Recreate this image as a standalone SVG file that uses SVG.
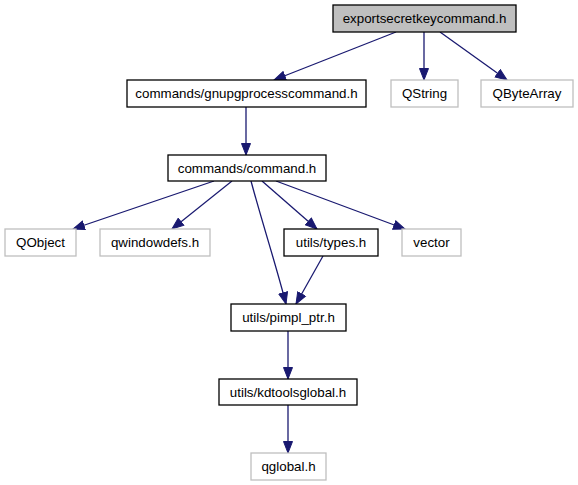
<svg xmlns="http://www.w3.org/2000/svg" width="578" height="485" viewBox="0 0 578 485">
<style>
.box{fill:#ffffff;stroke:#000000;stroke-width:1.3}
.ext{fill:#ffffff;stroke:#bfbfbf;stroke-width:1.3}
.cur{fill:#bfbfbf;stroke:#000000;stroke-width:1.3}
text{font-family:"Liberation Sans",Arial,Helvetica,sans-serif;font-size:13.33px;fill:#000000;text-anchor:middle}
.edge{fill:none;stroke:#191970;stroke-width:1.3}
</style>
<defs>
<marker id="ah" markerUnits="userSpaceOnUse" markerWidth="13" markerHeight="11" viewBox="0 0 13 11" refX="12" refY="5.5" orient="auto">
<path d="M0.5,1 L12,5.5 L0.5,10 Z" fill="#191970" stroke="#191970"/>
</marker>
</defs>
<rect width="578" height="485" fill="#ffffff"/>
<g id="connectors">
<path class="edge" marker-end="url(#ah)" d="M396,32 L274,80"/>
<path class="edge" marker-end="url(#ah)" d="M424,32 L424,80"/>
<path class="edge" marker-end="url(#ah)" d="M440,32 L507,80"/>
<path class="edge" marker-end="url(#ah)" d="M246,107 L246,155"/>
<path class="edge" marker-end="url(#ah)" d="M214,181 L73,229"/>
<path class="edge" marker-end="url(#ah)" d="M232,181 L172,229"/>
<path class="edge" marker-end="url(#ah)" d="M251,181 C262,222 276,265 286,304"/>
<path class="edge" marker-end="url(#ah)" d="M262,181 L317,229"/>
<path class="edge" marker-end="url(#ah)" d="M276,181 L405,229"/>
<path class="edge" marker-end="url(#ah)" d="M323,256 L296,304"/>
<path class="edge" marker-end="url(#ah)" d="M288,331 L288,379"/>
<path class="edge" marker-end="url(#ah)" d="M288,405 L288,453"/>
</g>
<g id="node_export"><rect class="cur" x="333" y="5" width="183" height="27"/><text x="424.5" y="23">exportsecretkeycommand.h</text></g>
<g id="node_gnupg"><rect class="box" x="127" y="80" width="239" height="27"/><text x="246.5" y="98">commands/gnupgprocesscommand.h</text></g>
<g id="node_qstring"><rect class="ext" x="391" y="80" width="67" height="27"/><text x="424.5" y="98">QString</text></g>
<g id="node_qbytearray"><rect class="ext" x="481" y="80" width="92" height="27"/><text x="527" y="98">QByteArray</text></g>
<g id="node_command"><rect class="box" x="168" y="155" width="158" height="26"/><text x="247" y="172.5">commands/command.h</text></g>
<g id="node_qobject"><rect class="ext" x="5" y="229" width="71" height="27"/><text x="40.5" y="247">QObject</text></g>
<g id="node_qwindowdefs"><rect class="ext" x="100" y="229" width="110" height="27"/><text x="155" y="247">qwindowdefs.h</text></g>
<g id="node_types"><rect class="box" x="284" y="229" width="94" height="27"/><text x="331" y="247">utils/types.h</text></g>
<g id="node_vector"><rect class="ext" x="402" y="229" width="59" height="27"/><text x="431.5" y="247">vector</text></g>
<g id="node_pimpl"><rect class="box" x="231" y="304" width="115" height="27"/><text x="288.5" y="322">utils/pimpl_ptr.h</text></g>
<g id="node_kdtools"><rect class="box" x="219" y="379" width="138" height="26"/><text x="288" y="396.5">utils/kdtoolsglobal.h</text></g>
<g id="node_qglobal"><rect class="ext" x="251" y="453" width="75" height="27"/><text x="288.5" y="471">qglobal.h</text></g>
</svg>
